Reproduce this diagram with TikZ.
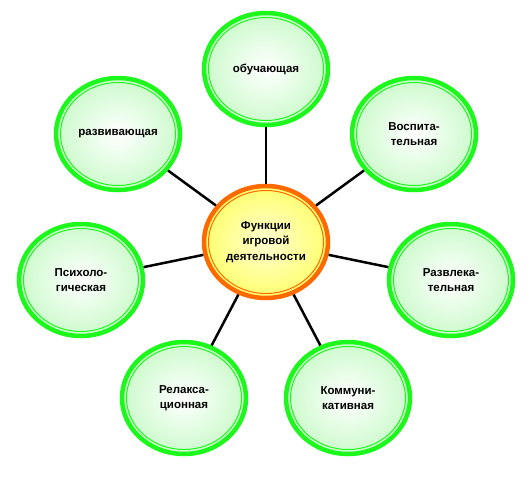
\documentclass[tikz,border=0pt]{standalone}
\usepackage{fontspec}
\setsansfont{Liberation Sans}
\usetikzlibrary{shapes.geometric}
\definecolor{ringgreen}{HTML}{1CF81C}
\definecolor{palegreen}{HTML}{CCFACC}
\definecolor{ringorange}{HTML}{FF6A00}
\definecolor{sunyellow}{HTML}{FFFF70}
\definecolor{lightyellow}{HTML}{FFFFD0}

\tikzset{
  func/.style={ellipse, minimum width=124pt, minimum height=112pt, inner sep=0pt,
    line width=4.5pt, align=center, font=\sffamily\bfseries\fontsize{11.5}{15.5}\selectfont},
  leaf/.style={func, draw=ringgreen, inner color=white, outer color=palegreen,
    path picture={\draw[ringgreen, line width=1pt] (path picture bounding box.center) ellipse (57.5pt and 51.5pt);}},
  hub/.style={func, draw=ringorange, inner color=lightyellow, outer color=sunyellow,
    path picture={\draw[ringorange, line width=1pt] (path picture bounding box.center) ellipse (57.5pt and 51.5pt);}},
  spoke/.style={line width=2.5pt}
}

\begin{document}
\begin{tikzpicture}[x=1pt, y=-1pt]
  \useasboundingbox (0,0) rectangle (532,485);
  \node[hub] (hub) at (266,242) {Функции\\игровой\\деятельности};
  % outer functions
  \foreach \n/\x/\y/\t in {obuch/266/69/{обучающая}, razv/118/134/{развивающая},
                           vosp/414/134/{Воспита-\\тельная}, psih/81/280/{Психоло-\\гическая},
                           razvl/451/280/{Развлека-\\тельная}, relax/184/398/{Релакса-\\ционная},
                           komm/348/398/{Коммуни-\\кативная}}
    { \node[leaf] (\n) at (\x,\y) {\t}; \draw[spoke] (hub) -- (\n); }
\end{tikzpicture}
\end{document}
